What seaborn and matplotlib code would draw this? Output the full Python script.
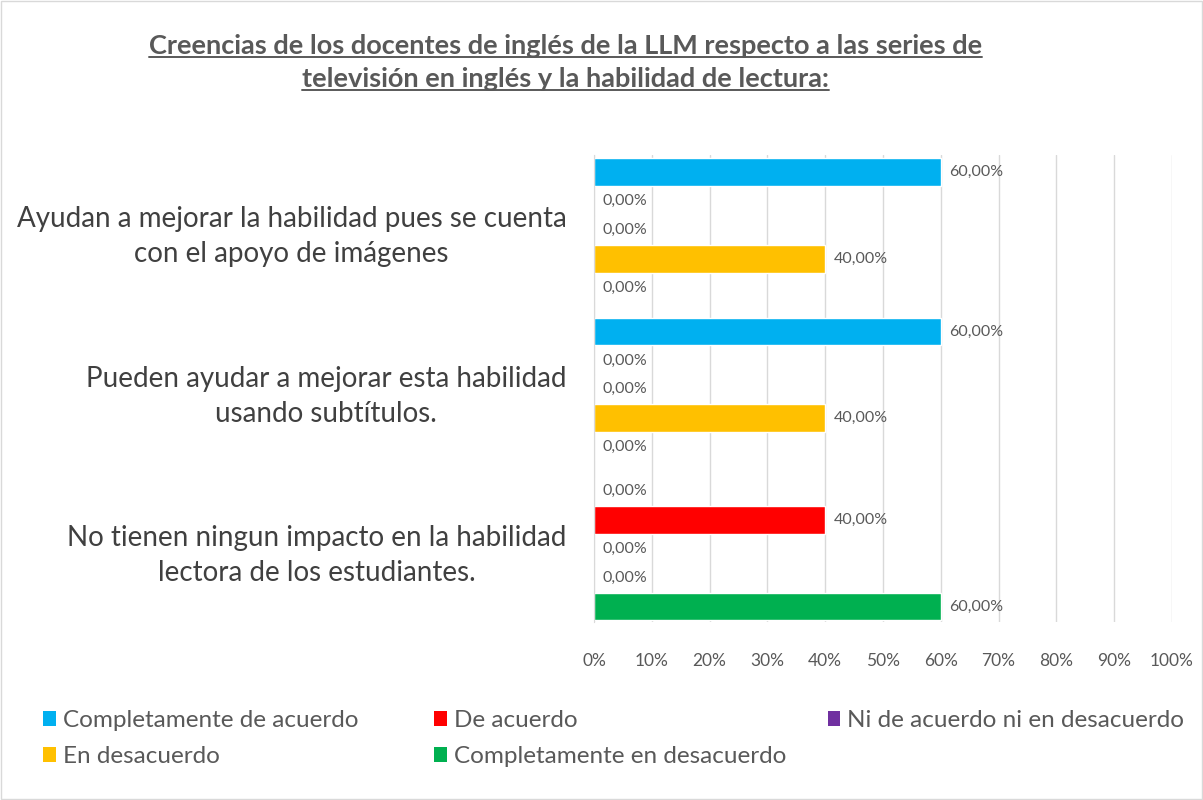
import seaborn as sns
import pandas as pd
import matplotlib.pyplot as plt
from matplotlib.patches import Patch, Rectangle
from matplotlib.lines import Line2D

sns.set_style("white")
plt.rcParams["font.family"] = ["Lato", "DejaVu Sans"]

statements = [
    "Ayudan a mejorar la habilidad pues se cuenta\ncon el apoyo de imágenes",
    "Pueden ayudar a mejorar esta habilidad\nusando subtítulos.",
    "No tienen ningun impacto en la habilidad\nlectora de los estudiantes.",
]
answers = [
    "Completamente de acuerdo",
    "De acuerdo",
    "Ni de acuerdo ni en desacuerdo",
    "En desacuerdo",
    "Completamente en desacuerdo",
]
colors = ["#00B0F0", "#FF0000", "#7030A0", "#FFC000", "#00B050"]

# percentages per answer, one value per statement
completamente_de_acuerdo = [60, 60, 0]
de_acuerdo = [0, 0, 40]
ni_ni = [0, 0, 0]
en_desacuerdo = [40, 40, 0]
completamente_en_desacuerdo = [0, 0, 60]

series = [completamente_de_acuerdo, de_acuerdo, ni_ni,
          en_desacuerdo, completamente_en_desacuerdo]
rows = []
for answer, vals in zip(answers, series):
    for stmt, v in zip(statements, vals):
        rows.append({"statement": stmt, "answer": answer, "pct": v})
df = pd.DataFrame(rows)

text_gray = "#595959"

fig = plt.figure(figsize=(12.03, 8.0), dpi=100)
fig.patches.append(Rectangle((0.001, 0.001), 0.998, 0.998, transform=fig.transFigure,
                             fill=False, edgecolor="#D9D9D9", linewidth=1))
ax = fig.add_axes([0.4938, 0.2225, 0.4804, 0.5838])

sns.barplot(data=df, y="statement", x="pct", hue="answer", order=statements,
            hue_order=answers, palette=colors, orient="h", width=0.906,
            gap=0.035, saturation=1, ax=ax, legend=False)

for container in ax.containers:
    ax.bar_label(container, labels=[f"{v:.2f}%".replace(".", ",") for v in container.datavalues],
                 padding=6, fontsize=11.5, color=text_gray)

ax.set_xlim(0, 100)
ax.set_ylim(2.46, -0.47)
ax.set_xticks(range(0, 101, 10))
ax.set_xticklabels([f"{t}%" for t in range(0, 101, 10)])
ax.tick_params(axis="x", labelsize=12.5, labelcolor=text_gray, length=0, pad=22)
ax.tick_params(axis="y", labelsize=20, labelcolor="#404040", length=0, pad=20)
for t in ax.get_yticklabels():
    t.set_multialignment("center")
    t.set_linespacing(1.42)
ax.set_xlabel("")
ax.set_ylabel("")
ax.xaxis.grid(True, color="#D9D9D9", linewidth=1)
ax.set_axisbelow(True)
for s in ["top", "right", "bottom"]:
    ax.spines[s].set_visible(False)
ax.spines["left"].set_color("#D9D9D9")

# title with underline
title_lines = ["Creencias de los docentes de inglés de la LLM respecto a las series de",
               "televisión en inglés y la habilidad de lectura:"]
title_texts = []
for i, line in enumerate(title_lines):
    t = fig.text(0.47, 1 - (46 + 33 * i) / 800, line, ha="center", va="center",
                 fontsize=19.5, fontweight="bold", color=text_gray)
    title_texts.append(t)
fig.canvas.draw()
renderer = fig.canvas.get_renderer()
for t in title_texts:
    bb = t.get_window_extent(renderer).transformed(fig.transFigure.inverted())
    fig.add_artist(Line2D([bb.x0, bb.x1], [bb.y0 + 0.001, bb.y0 + 0.001],
                          transform=fig.transFigure, color=text_gray, linewidth=1.4))

# legend in three columns
def square(c):
    return Patch(facecolor=c, edgecolor="none")

cols = [([0, 3], 0.022), ([1, 4], 0.347), ([2], 0.674)]
for idx, x in cols:
    lg = fig.legend(handles=[square(colors[i]) for i in idx],
                    labels=[answers[i] for i in idx],
                    loc="upper left", bbox_to_anchor=(x, 1 - 693 / 800),
                    frameon=False, fontsize=17.5, handlelength=0.5, handleheight=0.6,
                    handletextpad=0.3, labelspacing=0.62, borderpad=0.2,
                    labelcolor=text_gray)

fig.savefig("out.png", dpi=100)
